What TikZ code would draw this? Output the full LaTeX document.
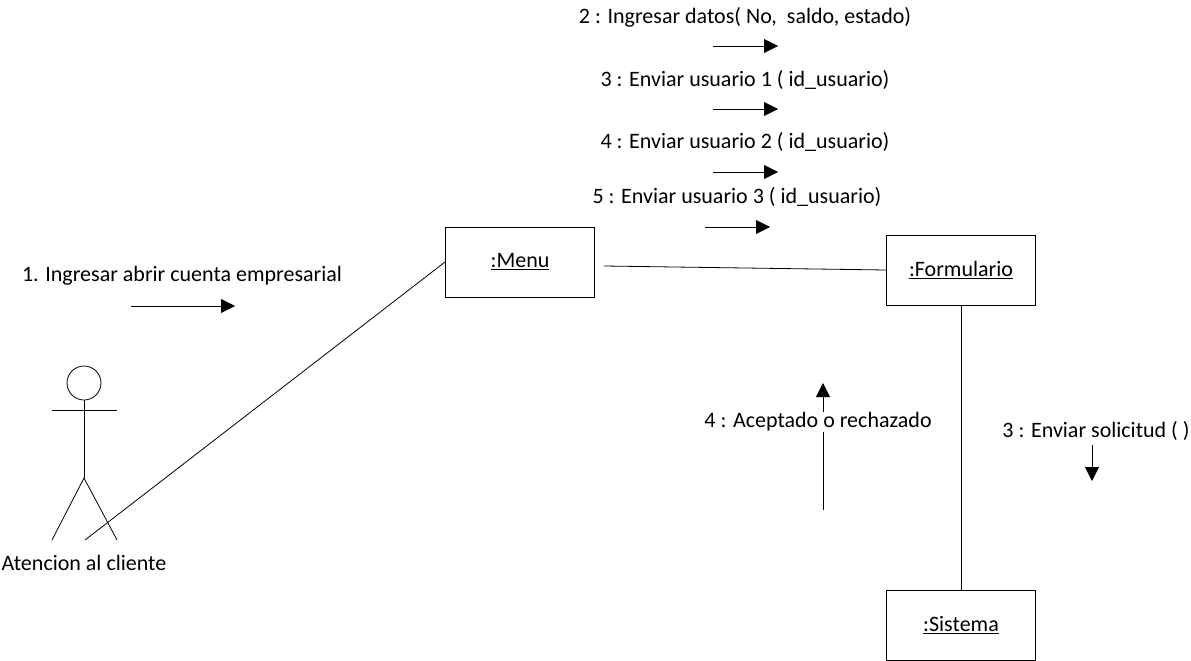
\documentclass[tikz,border=0pt]{standalone}
\usepackage{fontspec}
\setmainfont{Carlito}
\usetikzlibrary{positioning,arrows.meta}

\begin{document}
\begin{tikzpicture}[x=1pt,y=-1pt,
	font=\fontsize{22}{26}\selectfont,
	object/.style={draw, line width=1pt, minimum width=149pt, minimum height=70pt},
	msg/.style={-{Triangle[length=14pt,width=14pt]}, line width=0.9pt},
	link/.style={line width=0.8pt},
	]
	\useasboundingbox (0,0) rectangle (1191,661);

	\node[object] (menu) at (520,262) {\underline{:Menu}};
	\node[object] (form) at (961,270) {\underline{:Formulario}};
	\node[object] (sist) at (961,625) {\underline{:Sistema}};

	% actor
	\node[draw, circle, line width=0.8pt, minimum size=34pt, inner sep=0pt] (head) at (84,383) {};
	\coordinate (hip) at (84,478);
	\coordinate[left = 32pt of hip, yshift=-62pt] (lfoot);
	\coordinate[right = 33pt of hip, yshift=-62pt] (rfoot);
	\coordinate (foot) at (85,540);
	\draw[link] (head.south) -- (hip);
	\draw[link] (52,410) -- (117,410);
	\draw[link] (lfoot) -- (hip) -- (rfoot);
	\node (actor) at (84,563) {Atencion al cliente};

	\draw[link] (menu.west) -- (foot);
	\draw[link] ([shift={(9pt,-4pt)}]menu.east) -- (form.west);
	\draw[link] (form.south) -- (sist.north);

	% messages
	\node (m1) at (182,276) {1. Ingresar abrir cuenta empresarial};
	\coordinate (m1s) at (131,306);
	\coordinate[right = 104pt of m1s] (m1e);
	\draw[msg] (m1s) -- (m1e);

	\node (m2) at (745,17) {2 : Ingresar datos( No,\ \ saldo, estado)};
	\coordinate (m2s) at (713,46);
	\coordinate[right = 65pt of m2s] (m2e);
	\draw[msg] (m2s) -- (m2e);

	\node (m3) at (745,80) {3 : Enviar usuario 1 ( id\_usuario)};
	\coordinate (m3s) at (713,109);
	\coordinate[right = 65pt of m3s] (m3e);
	\draw[msg] (m3s) -- (m3e);

	\node (m4) at (745,142) {4 : Enviar usuario 2 ( id\_usuario)};
	\coordinate (m4s) at (713,172);
	\coordinate[right = 65pt of m4s] (m4e);
	\draw[msg] (m4s) -- (m4e);

	\node (m5) at (737,197) {5 : Enviar usuario 3 ( id\_usuario)};
	\coordinate (m5s) at (705,227);
	\coordinate[right = 65pt of m5s] (m5e);
	\draw[msg] (m5s) -- (m5e);

	\coordinate (r4s) at (823,510);
	\coordinate (r4e) at (823,383);
	\draw[msg] (r4s) -- (r4e);
	\node[fill=white, inner sep=1pt] (r4) at (818,422) {4 : Aceptado o rechazado};

	\node (s3) at (1096,431) {3 : Enviar solicitud ( )};
	\coordinate (s3s) at (1092,445);
	\coordinate (s3e) at (1092,481);
	\draw[msg] (s3s) -- (s3e);

\end{tikzpicture}
\end{document}
